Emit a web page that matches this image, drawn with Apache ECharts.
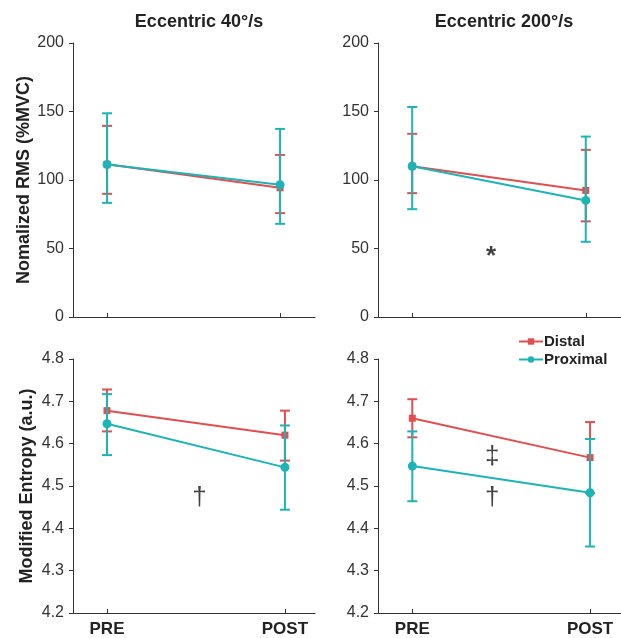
<!DOCTYPE html>
<html>
<head>
<meta charset="utf-8">
<script src="https://cdn.jsdelivr.net/npm/echarts@6/dist/echarts.min.js"></script>
<style>
  html, body { margin: 0; padding: 0; background: #fff; }
  #chart { width: 621px; height: 638px; }
</style>
</head>
<body>
<div id="chart"></div>
<script>
// data: [PRE, POST]
const phases = ['PRE', 'POST']
const titles = ['Eccentric 40°/s', 'Eccentric 200°/s']

// Normalized RMS (%MVC)
const rms40Distal = [111.5, 94.3]
const rms40DistalLo = [89.9, 75.8]
const rms40DistalHi = [139.5, 118.3]
const rms40Prox = [111.3, 96.5]
const rms40ProxLo = [83.3, 68.0]
const rms40ProxHi = [148.7, 137.3]

const rms200Distal = [110.1, 92.4]
const rms200DistalLo = [90.4, 69.8]
const rms200DistalHi = [133.7, 122.0]
const rms200Prox = [110.0, 85.1]
const rms200ProxLo = [78.7, 54.9]
const rms200ProxHi = [153.3, 131.7]

// Modified entropy (a.u.)
const ent40Distal = [4.678, 4.620]
const ent40DistalLo = [4.629, 4.560]
const ent40DistalHi = [4.728, 4.678]
const ent40Prox = [4.647, 4.544]
const ent40ProxLo = [4.573, 4.444]
const ent40ProxHi = [4.717, 4.643]

const ent200Distal = [4.660, 4.567]
const ent200DistalLo = [4.615, 4.483]
const ent200DistalHi = [4.705, 4.651]
const ent200Prox = [4.547, 4.484]
const ent200ProxLo = [4.464, 4.357]
const ent200ProxHi = [4.629, 4.611]

// significance marks: [x, y, symbol]
const marks200Rms = [[1.455, 44, '*']]
const marks40Ent = [[1.52, 4.473, '†']]
const marks200Ent = [[1.45, 4.568, '‡'], [1.45, 4.473, '†']]

const RED = '#e04f4f'
const TEAL = '#1cb4b6'
const AXIS = '#333'

const chart = echarts.init(document.getElementById('chart'))

function pts (means) {
  return means.map((v, i) => [i + 1, v])
}
function bars (lo, hi) {
  return lo.map((v, i) => [i + 1, v, hi[i]])
}

function renderBar (color) {
  return function (params, api) {
    const x = api.value(0)
    const p1 = api.coord([x, api.value(1)])
    const p2 = api.coord([x, api.value(2)])
    const half = 5
    const style = { stroke: color, lineWidth: 2 }
    return {
      type: 'group',
      children: [
        { type: 'line', shape: { x1: p1[0], y1: p1[1], x2: p2[0], y2: p2[1] }, style },
        { type: 'line', shape: { x1: p1[0] - half, y1: p1[1], x2: p1[0] + half, y2: p1[1] }, style },
        { type: 'line', shape: { x1: p2[0] - half, y1: p2[1], x2: p2[0] + half, y2: p2[1] }, style }
      ]
    }
  }
}

const panels = [
  { d: rms40Distal, dl: rms40DistalLo, dh: rms40DistalHi, p: rms40Prox, pl: rms40ProxLo, ph: rms40ProxHi, marks: [] },
  { d: rms200Distal, dl: rms200DistalLo, dh: rms200DistalHi, p: rms200Prox, pl: rms200ProxLo, ph: rms200ProxHi, marks: marks200Rms },
  { d: ent40Distal, dl: ent40DistalLo, dh: ent40DistalHi, p: ent40Prox, pl: ent40ProxLo, ph: ent40ProxHi, marks: marks40Ent },
  { d: ent200Distal, dl: ent200DistalLo, dh: ent200DistalHi, p: ent200Prox, pl: ent200ProxLo, ph: ent200ProxHi, marks: marks200Ent }
]

const grids = [
  { left: 73, top: 43, width: 242, height: 274 },
  { left: 378, top: 43, width: 243, height: 274 },
  { left: 73, top: 359, width: 242, height: 258 },
  { left: 378, top: 359, width: 243, height: 258 }
]
const xRange = [[0.803, 2.202], [0.803, 2.203], [0.809, 2.169], [0.807, 2.174]]

const xAxes = grids.map((g, i) => ({
  type: 'value',
  gridIndex: i,
  min: xRange[i][0],
  max: xRange[i][1],
  splitLine: { show: false },
  axisLine: { lineStyle: { color: AXIS, width: 1 } },
  axisTick: { show: true, inside: true, length: 4, customValues: [1, 2], lineStyle: { color: AXIS } },
  axisLabel: {
    show: i >= 2,
    customValues: [1, 2],
    formatter: v => phases[Math.round(v) - 1],
    color: '#222',
    fontWeight: 'bold',
    fontSize: 17,
    margin: 8
  }
}))

const yAxes = grids.map((g, i) => {
  const top = i < 2
  return {
    type: 'value',
    gridIndex: i,
    min: top ? 0 : 4.2,
    max: top ? 200 : 4.8,
    interval: top ? 50 : 0.1,
    name: i === 0 ? 'Nomalized RMS (%MVC)' : (i === 2 ? 'Modified Entropy (a.u.)' : ''),
    nameLocation: 'middle',
    nameGap: 37,
    nameTextStyle: { fontWeight: 'bold', fontSize: 18, color: '#222' },
    splitLine: { show: false },
    axisLine: { show: true, lineStyle: { color: AXIS, width: 1 } },
    axisTick: { show: true, length: 4, lineStyle: { color: AXIS } },
    axisLabel: {
      color: '#333',
      fontSize: 16,
      margin: 9,
      formatter: v => top ? String(Math.round(v)) : v.toFixed(1)
    }
  }
})

const series = []
panels.forEach((pn, i) => {
  series.push({
    type: 'custom', name: 'Distal SD', xAxisIndex: i, yAxisIndex: i,
    renderItem: renderBar(RED), data: bars(pn.dl, pn.dh), z: 2
  })
  series.push({
    type: 'line', name: 'Distal', xAxisIndex: i, yAxisIndex: i,
    data: pts(pn.d), symbol: 'rect', symbolSize: 7,
    itemStyle: { color: RED }, lineStyle: { color: RED, width: 2 }, z: 3
  })
  series.push({
    type: 'custom', name: 'Proximal SD', xAxisIndex: i, yAxisIndex: i,
    renderItem: renderBar(TEAL), data: bars(pn.pl, pn.ph), z: 4
  })
  series.push({
    type: 'line', name: 'Proximal', xAxisIndex: i, yAxisIndex: i,
    data: pts(pn.p), symbol: 'circle', symbolSize: 9,
    itemStyle: { color: TEAL }, lineStyle: { color: TEAL, width: 2 }, z: 5
  })
  if (pn.marks.length) {
    series.push({
      type: 'scatter', xAxisIndex: i, yAxisIndex: i,
      data: pn.marks.map(m => ({
        value: [m[0], m[1]],
        label: { formatter: m[2], fontWeight: m[2] === '*' ? 'bold' : 'normal' }
      })),
      symbolSize: 1,
      itemStyle: { color: 'rgba(0,0,0,0)' },
      label: { show: true, position: 'inside', color: '#111', fontSize: 26 },
      silent: true, z: 6
    })
  }
})

const option = {
  animation: false,
  textStyle: { fontFamily: 'Liberation Sans, Arial, sans-serif' },
  title: [
    { text: titles[0], left: 194, top: 8, textAlign: 'center', textStyle: { fontSize: 18, fontWeight: 'bold', color: '#222' } },
    { text: titles[1], left: 499, top: 8, textAlign: 'center', textStyle: { fontSize: 18, fontWeight: 'bold', color: '#222' } }
  ],
  legend: {
    data: ['Distal', 'Proximal'],
    orient: 'vertical',
    left: 518,
    top: 334,
    padding: 0,
    itemWidth: 24,
    itemHeight: 8,
    itemGap: 3,
    textStyle: { fontSize: 15, fontWeight: 'bold', color: '#222', padding: [0, 0, 0, -4] }
  },
  grid: grids,
  xAxis: xAxes,
  yAxis: yAxes,
  series
}

chart.setOption(option)
</script>
</body>
</html>
